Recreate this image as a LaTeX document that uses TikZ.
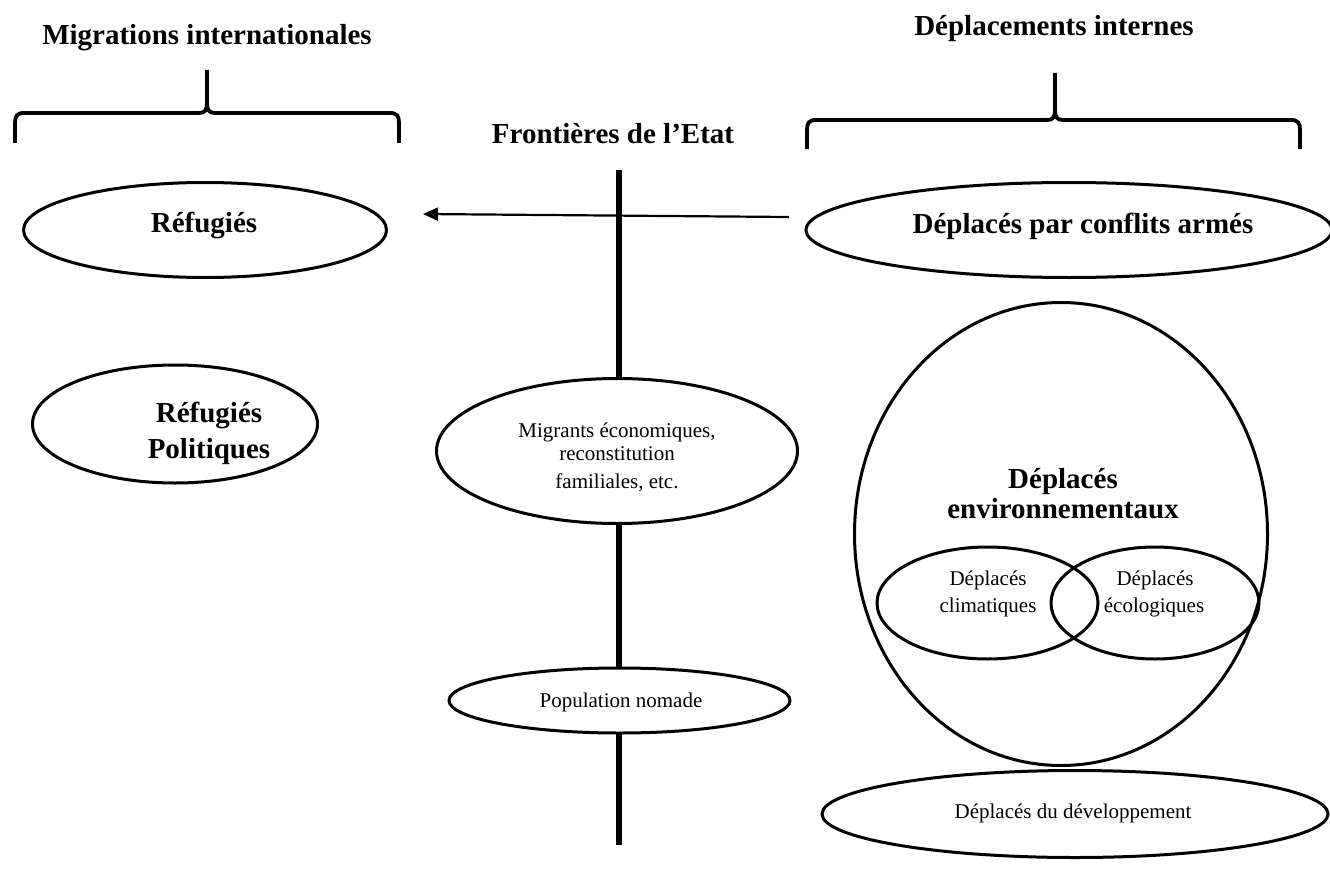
\documentclass[tikz,border=0pt]{standalone}
\usepackage{fontspec}
\setmainfont{Liberation Serif}
\usetikzlibrary{shapes.geometric,arrows.meta}
\tikzset{
  oval/.style={draw, ellipse, line width=3pt, fill=white, inner sep=0pt},
  ovalnf/.style={draw, ellipse, line width=3pt, inner sep=0pt},
  brace/.style={line width=3.8pt},
  border/.style={line width=5.5pt},
  conn/.style={line width=2.2pt, -{Triangle[length=15pt,width=13pt]}},
  bigtxt/.style={font=\fontsize{29}{36}\selectfont\bfseries, inner sep=0pt, anchor=base, align=center},
  smalltxt/.style={font=\fontsize{21}{27}\selectfont, inner sep=0pt, anchor=base, align=center}
}
\begin{document}
\begin{tikzpicture}[x=1pt,y=-1pt]
\useasboundingbox (0,0) rectangle (1330,872);
% titles
\node[bigtxt] (tmig) at (207,45) {Migrations internationales};
\node[bigtxt] (tdep) at (1054,36) {Déplacements internes};
\node[bigtxt] (tfro) at (613,143) {Frontières de l’Etat};
% braces
\draw[brace] (15,143) -- (15,123) .. controls (15,116) and (17,113) .. (24,113) -- (199,113)
  .. controls (205,113) and (207,110) .. (207,103) -- (207,70);
\draw[brace] (207,103) .. controls (207,110) and (209,113) .. (215,113) -- (390,113)
  .. controls (397,113) and (399,116) .. (399,123) -- (399,143);
\draw[brace] (807,149) -- (807,130) .. controls (807,123) and (809,120) .. (816,120) -- (1047,120)
  .. controls (1053,120) and (1055,117) .. (1055,110) -- (1055,73);
\draw[brace] (1055,110) .. controls (1055,117) and (1057,120) .. (1063,120) -- (1291,120)
  .. controls (1298,120) and (1300,123) .. (1300,130) -- (1300,149);
% arrow
\coordinate (astart) at (789,217);
\coordinate (aend) at (423,214);
\draw[conn] (astart) -- (aend);
% border line
\coordinate (ftop) at (619,170);
\coordinate (fbot) at (619,845);
\draw[border] (ftop) -- (fbot);
% left ellipses
\node[oval, minimum width=363pt, minimum height=95pt] (ref) at (205,230) {};
\node[bigtxt] (refT) at (204,232) {Réfugiés};
\node[oval, minimum width=285pt, minimum height=118pt] (refpol) at (175,424) {};
\node[bigtxt] (refpolA) at (209,422) {Réfugiés};
\node[bigtxt] (refpolB) at (209,458) {Politiques};
% middle ellipses
\node[oval, minimum width=361pt, minimum height=145pt] (mig) at (617,451) {};
\node[smalltxt] (migA) at (617,437) {Migrants économiques,};
\node[smalltxt] (migB) at (617,460) {reconstitution};
\node[smalltxt] (migC) at (617,488) {familiales, etc.};
\node[oval, minimum width=341pt, minimum height=65pt] (nom) at (619.5,700.5) {};
\node[smalltxt] (nomT) at (621,707) {Population nomade};
% right side
\node[oval, minimum width=526pt, minimum height=95pt] (conf) at (1069,230) {};
\node[bigtxt] (confT) at (1083,233) {Déplacés par conflits armés};
\node[ovalnf, minimum width=413pt, minimum height=463pt] (env) at (1061,534) {};
\node[bigtxt] (envA) at (1063,488) {Déplacés};
\node[bigtxt] (envB) at (1063,518) {environnementaux};
\node[ovalnf, minimum width=221pt, minimum height=112pt] (clim) at (987.5,603) {};
\node[smalltxt] (climA) at (988,585) {Déplacés};
\node[smalltxt] (climB) at (988,612) {climatiques};
\node[ovalnf, minimum width=208pt, minimum height=112pt] (eco) at (1155,603) {};
\node[smalltxt] (ecoA) at (1155,585) {Déplacés};
\node[smalltxt] (ecoB) at (1154,612) {écologiques};
\node[oval, minimum width=506pt, minimum height=87pt] (dev) at (1075,814) {};
\node[smalltxt] (devT) at (1073,818) {Déplacés du développement};
\end{tikzpicture}
\end{document}
